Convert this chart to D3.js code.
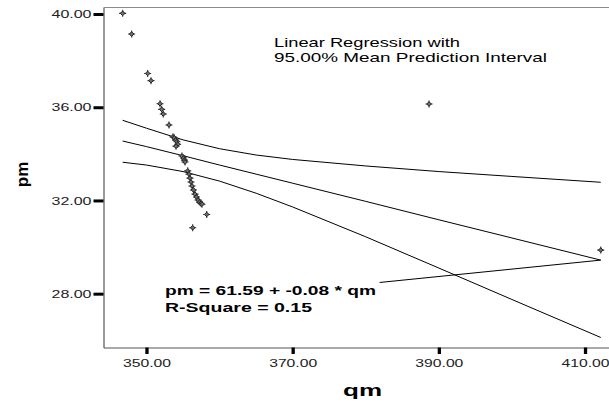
<!DOCTYPE html>
<html>
<head>
<meta charset="utf-8">
<script src="https://cdn.jsdelivr.net/npm/d3@7"></script>
<style>
  html, body { margin: 0; padding: 0; background: #fff; }
  svg { display: block; }
  text { font-family: "Liberation Sans", Arial, sans-serif; }
</style>
</head>
<body>
<svg id="chart" width="609" height="403"></svg>
<script>
// ---- data ----
const qm = [346.74, 347.97, 350.16, 350.62, 351.85, 352.08, 352.30, 353.08,
            353.63, 353.80, 354.00, 354.17, 354.27, 354.04,
            354.86, 355.06, 355.20, 355.27,
            355.64, 355.82, 355.95, 356.09, 356.23, 356.43, 356.64, 356.84, 357.05, 357.25, 357.46, 357.59,
            358.24, 356.32, 388.66, 412.15];
const pm = [40.03, 39.14, 37.45, 37.14, 36.15, 35.91, 35.71, 35.24,
            34.73, 34.69, 34.59, 34.52, 34.41, 34.33,
            33.91, 33.82, 33.73, 33.65,
            33.27, 33.13, 32.96, 32.79, 32.62, 32.45, 32.27, 32.15, 32.02, 31.93, 31.88, 31.84,
            31.40, 30.83, 36.14, 29.87];

const bandQm  = [346.74, 350, 355, 360, 365, 370, 380, 390, 400, 412.15];
const fitPm   = [34.55, 34.31, 33.92, 33.52, 33.13, 32.74, 31.96, 31.17, 30.39, 29.44];
const upperPm = [35.44, 35.10, 34.60, 34.22, 33.95, 33.76, 33.48, 33.24, 33.03, 32.78];
const lowerPm = [33.64, 33.52, 33.24, 32.83, 32.31, 31.72, 30.44, 29.10, 27.75, 26.12];

const xTicks = [350, 370, 390, 410];
const yTicks = [28, 32, 36, 40];

const titleLines = ["Linear Regression with", "95.00% Mean Prediction Interval"];
const equationLines = ["pm = 61.59 + -0.08 * qm", "R-Square = 0.15"];
const leaderStart = [381.9, 28.48];   // [qm, pm] where the equation leader line begins
const xLabel = "qm", yLabel = "pm";

// ---- drawing ----
const svg = d3.select("#chart");
const mLeft = 103.5, mRight = 609, mTop = 7.5, mBottom = 347.5;

const x = d3.scaleLinear().domain([344.12, 413.28]).range([mLeft, mRight]);
const y = d3.scaleLinear().domain([25.69, 40.28]).range([mBottom, mTop]);

svg.append("rect").attr("width", 609).attr("height", 403).attr("fill", "#fff");

// frame top line
svg.append("line").attr("x1", mLeft).attr("x2", mRight).attr("y1", mTop).attr("y2", mTop)
  .attr("stroke", "#8a8a8a").attr("stroke-width", 1);

// axes
const yAxis = d3.axisLeft(y).tickValues(yTicks).tickFormat(d3.format(".2f"))
  .tickSize(10).tickSizeOuter(0).tickPadding(2);
const gy = svg.append("g").attr("transform", `translate(${mLeft},0)`).call(yAxis);
gy.select(".domain").style("stroke", "#555").style("stroke-width", "1.2px");
gy.selectAll(".tick line").style("stroke", "#000").style("stroke-width", "3px");
gy.selectAll(".tick text").attr("font-size", 11.5).attr("fill", "#222")
  .attr("font-family", "Liberation Sans, Arial, sans-serif")
  .attr("textLength", 40).attr("lengthAdjust", "spacingAndGlyphs");

const xAxis = d3.axisBottom(x).tickValues(xTicks).tickFormat(d3.format(".2f"))
  .tickSize(6.5).tickSizeOuter(0).tickPadding(5);
const gx = svg.append("g").attr("transform", `translate(0,${mBottom})`).call(xAxis);
gx.select(".domain").style("stroke", "#555").style("stroke-width", "1.2px");
gx.selectAll(".tick line").style("stroke", "#000").style("stroke-width", "3.3px");
gx.selectAll(".tick text").attr("font-size", 11.5).attr("fill", "#222")
  .attr("font-family", "Liberation Sans, Arial, sans-serif")
  .attr("textLength", 48).attr("lengthAdjust", "spacingAndGlyphs");

// regression and interval lines
const line = d3.line().x(d => x(d[0])).y(d => y(d[1]));
[upperPm, fitPm, lowerPm].forEach(vals => {
  svg.append("path")
    .datum(bandQm.map((q, i) => [q, vals[i]]))
    .attr("d", line).attr("fill", "none").attr("stroke", "#000").attr("stroke-width", 1);
});

// leader line from equation to the end of the fit line
svg.append("path")
  .datum([leaderStart, [bandQm[bandQm.length - 1], fitPm[fitPm.length - 1]]])
  .attr("d", line).attr("fill", "none").attr("stroke", "#000").attr("stroke-width", 1);

// points
const marker = "M0,-3.5V3.5M-3.5,0H3.5";
const diamond = "M0,-2.3L2.3,0L0,2.3L-2.3,0Z";
const pts = svg.append("g");
qm.forEach((q, i) => {
  const g = pts.append("g").attr("transform", `translate(${x(q)},${y(pm[i])})`);
  g.append("path").attr("d", marker).attr("stroke", "#333").attr("stroke-width", 1.1);
  g.append("path").attr("d", diamond).attr("fill", "#6e6e6e").attr("stroke", "#222").attr("stroke-width", 1);
});

// title text
svg.append("text").attr("x", 274).attr("y", 47).attr("font-size", 13.5).attr("fill", "#000")
  .attr("textLength", 186).attr("lengthAdjust", "spacingAndGlyphs").text(titleLines[0]);
svg.append("text").attr("x", 274).attr("y", 62).attr("font-size", 13.5).attr("fill", "#000")
  .attr("textLength", 273).attr("lengthAdjust", "spacingAndGlyphs").text(titleLines[1]);

// equation text
svg.append("text").attr("x", 165).attr("y", 294.5).attr("font-size", 13).attr("font-weight", "bold")
  .attr("textLength", 211).attr("lengthAdjust", "spacingAndGlyphs").text(equationLines[0]);
svg.append("text").attr("x", 165).attr("y", 311.5).attr("font-size", 13).attr("font-weight", "bold")
  .attr("textLength", 147).attr("lengthAdjust", "spacingAndGlyphs").text(equationLines[1]);

// axis titles
svg.append("text").attr("x", 362.5).attr("y", 396).attr("text-anchor", "middle")
  .attr("font-size", 17).attr("font-weight", "bold")
  .attr("textLength", 39).attr("lengthAdjust", "spacingAndGlyphs").text(xLabel);
svg.append("text").attr("transform", "translate(28,174.5) rotate(-90)").attr("text-anchor", "middle")
  .attr("font-size", 17).attr("font-weight", "bold").text(yLabel);
</script>
</body>
</html>
